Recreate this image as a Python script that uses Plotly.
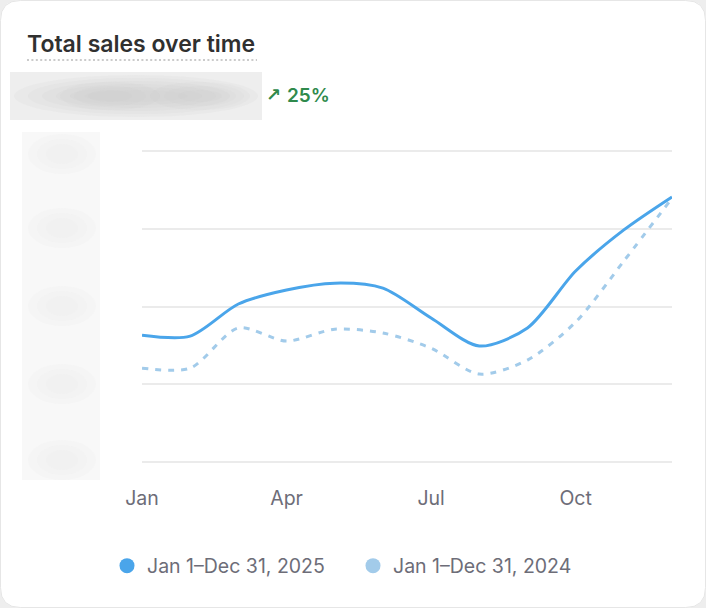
import plotly.graph_objects as go

months = ["Jan", "Feb", "Mar", "Apr", "May", "Jun", "Jul", "Aug", "Sep", "Oct", "Nov", "Dec"]
sales_2025 = [40.8, 40.5, 50.8, 55.3, 57.5, 55.9, 46.3, 37.3, 43.1, 61.4, 74.6, 85.2]
sales_2024 = [30.2, 30.2, 43.1, 38.9, 42.7, 41.5, 36.6, 28.3, 32.8, 45.0, 64.6, 84.8]
tick_months = ["Jan", "Apr", "Jul", "Oct"]
grid_values = [0, 25, 50, 75, 100]
label_2025 = "Jan 1\u2013Dec 31, 2025"
label_2024 = "Jan 1\u2013Dec 31, 2024"
title_text = "Total sales over time"
change_text = "25%"

W, H = 706, 608
L, R, T, B = 142, 34, 149, 144
PW, PH = W - L - R, H - T - B

def px(x):
    return (x - L) / PW

def py(y):
    return (H - B - y) / PH

C25 = "#4aa5ea"
C24 = "#a2cbea"
FONT = "Inter"

fig = go.Figure()
fig.add_trace(go.Scatter(x=months, y=sales_2024, mode="lines", name=label_2024,
                         line=dict(color=C24, width=3, dash="6px,7px", shape="spline", smoothing=0.8),
                         showlegend=False, hoverinfo="skip"))
fig.add_trace(go.Scatter(x=months, y=sales_2025, mode="lines", name=label_2025,
                         line=dict(color=C25, width=3, shape="spline", smoothing=0.8),
                         showlegend=False, hoverinfo="skip"))
# legend entries (circle markers)
fig.add_trace(go.Scatter(x=[None], y=[None], mode="markers", name=label_2025,
                         marker=dict(color=C25, size=15, symbol="circle")))
fig.add_trace(go.Scatter(x=[None], y=[None], mode="markers", name=label_2024,
                         marker=dict(color=C24, size=15, symbol="circle")))

shapes = []
# card with rounded corners
r = 20
x0, x1, y0, y1 = 0.5, W - 0.5, 0.5, H - 0.5
path = (f"M {px(x0 + r)},{py(y0)} L {px(x1 - r)},{py(y0)} Q {px(x1)},{py(y0)} {px(x1)},{py(y0 + r)} "
        f"L {px(x1)},{py(y1 - r)} Q {px(x1)},{py(y1)} {px(x1 - r)},{py(y1)} "
        f"L {px(x0 + r)},{py(y1)} Q {px(x0)},{py(y1)} {px(x0)},{py(y1 - r)} "
        f"L {px(x0)},{py(y0 + r)} Q {px(x0)},{py(y0)} {px(x0 + r)},{py(y0)} Z")
shapes.append(dict(type="path", xref="paper", yref="paper", path=path, fillcolor="white",
                   line=dict(color="#e6e6e6", width=1), layer="below"))
# dotted underline of title
shapes.append(dict(type="line", xref="paper", yref="paper", x0=px(27), x1=px(257), y0=py(60), y1=py(60),
                   line=dict(color="#cbcbcb", width=2, dash="2px,2.4px"), layer="above"))
# blurred headline value (soft gradient from stacked translucent ellipses)
shapes.append(dict(type="rect", xref="paper", yref="paper", x0=px(10), x1=px(262), y0=py(72), y1=py(120),
                   fillcolor="#eeeeee", line=dict(width=0), layer="below"))
for i in range(6):
    shapes.append(dict(type="circle", xref="paper", yref="paper",
                       x0=px(14 + i * 14), x1=px(258 - i * 14), y0=py(75 + i * 3), y1=py(117 - i * 3),
                       fillcolor="#c4c4c4", opacity=0.1, line=dict(width=0), layer="below"))
for cx in [110, 200]:
    for i in range(3):
        shapes.append(dict(type="circle", xref="paper", yref="paper",
                           x0=px(cx - 50 + i * 14), x1=px(cx + 50 - i * 14), y0=py(82 + i * 4), y1=py(110 - i * 4),
                           fillcolor="#c0c0c0", opacity=0.08, line=dict(width=0), layer="below"))
# blurred y-axis labels
shapes.append(dict(type="rect", xref="paper", yref="paper", x0=px(22), x1=px(100), y0=py(132), y1=py(480),
                   fillcolor="#f8f8f8", line=dict(width=0), layer="below"))
for yy in [154, 228, 306, 384, 460]:
    for i in range(3):
        shapes.append(dict(type="circle", xref="paper", yref="paper",
                           x0=px(28 + i * 9), x1=px(96 - i * 9), y0=py(yy - 20 + i * 5), y1=py(yy + 20 - i * 5),
                           fillcolor="#e6e6e6", opacity=0.12, line=dict(width=0), layer="below"))

annotations = [
    dict(text=title_text, xref="paper", yref="paper", x=px(25), y=py(44), xanchor="left", yanchor="middle",
         showarrow=False, font=dict(family=FONT, size=23, color="#303030", weight=600)),
    dict(text="\u2197", xref="paper", yref="paper", x=px(264), y=py(95), xanchor="left", yanchor="middle",
         showarrow=False, font=dict(family="DejaVu Sans", size=18, color="#2f8a4c", weight="bold")),
    dict(text=change_text, xref="paper", yref="paper", x=px(285), y=py(96), xanchor="left", yanchor="middle",
         showarrow=False, font=dict(family=FONT, size=19, color="#2f8a4c", weight=600)),
]

fig.update_layout(
    width=W, height=H,
    margin=dict(l=L, r=R, t=T, b=B, pad=0),
    paper_bgcolor="#eeeeee",
    plot_bgcolor="rgba(0,0,0,0)",
    font=dict(family=FONT, color="#6d6d78"),
    shapes=shapes,
    annotations=annotations,
    showlegend=True,
    legend=dict(orientation="h", xref="container", yref="container", x=0.5, y=1 - 566 / H,
                xanchor="center", yanchor="middle", font=dict(family=FONT, size=19.5, color="#6d6d78"),
                bgcolor="rgba(0,0,0,0)", itemsizing="trace", traceorder="normal",
                entrywidth=201, entrywidthmode="pixels"),
    xaxis=dict(type="category", categoryorder="array", categoryarray=months, range=[0, 11],
               tickmode="array", tickvals=tick_months, ticktext=tick_months,
               showgrid=False, zeroline=False, showline=False,
               ticks="outside", ticklen=17, tickcolor="rgba(0,0,0,0)",
               tickfont=dict(family=FONT, size=19.5, color="#6d6d78")),
    yaxis=dict(range=[-0.6, 100.6], tickvals=grid_values, showticklabels=False,
               showgrid=True, gridcolor="#ebebeb", gridwidth=1.5, zeroline=False, showline=False),
)

fig.write_html("out.html", config={"displayModeBar": False},
               post_script="document.body.style.margin='0';")
